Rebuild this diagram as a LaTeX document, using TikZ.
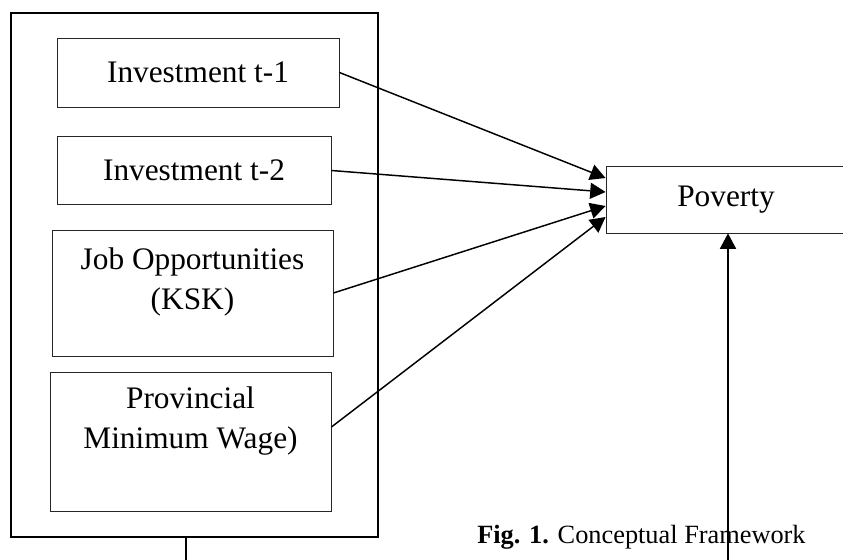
\documentclass[tikz,border=0pt]{standalone}
\usepackage{fontspec}
\setmainfont{Liberation Serif}
\usetikzlibrary{arrows.meta,calc}
\tikzset{
	kotakvar/.style={draw=black!85, line width=0.65pt, inner sep=0pt, font=\fontsize{23.5}{30}\selectfont},
	panah/.style={line width=1.1pt, -{Triangle[length=11.5pt,width=12pt]}}
}
\begin{document}
\begin{tikzpicture}[x=0.75pt,y=-0.75pt]
	\useasboundingbox (0,0) rectangle (843,560);
	\node[draw, line width=0.9pt, minimum width=367*0.75pt, minimum height=524*0.75pt] (luar) at (194.5,275) {};
	\begin{scope}[every node/.style={kotakvar}]
		\node[minimum width=282*0.75pt, minimum height=69*0.75pt] (inv1) at (198,72.5) {Investment t-1};
		\node[minimum width=274*0.75pt, minimum height=68*0.75pt] (inv2) at (194,170.5) {Investment t-2};
		\node[minimum width=281*0.75pt, minimum height=126*0.75pt, label={[align=center, yshift=8.25pt]center:Job Opportunities\\(KSK)}] (kerja) at (192.5,293) {};
		\node[minimum width=281*0.75pt, minimum height=139*0.75pt, label={[align=center, yshift=15.4pt]center:Provincial\\Minimum Wage)}] (upah) at (190.5,441.5) {};
		\node[minimum width=240*0.75pt, minimum height=67*0.75pt] (miskin) at (726,199.5) {Poverty};
	\end{scope}
	\draw[panah] (inv1.east) -- ($(miskin.west)+(0,-21.5)$);
	\draw[panah] (inv2.east) -- ($(miskin.west)+(0,-7.5)$);
	\draw[panah] (kerja.east) -- ($(miskin.west)+(0,6.5)$);
	\draw[panah] ($(upah.east)+(0,-14.5)$) -- ($(miskin.west)+(0,17.5)$);
	\coordinate (ujung) at (728,560);
	\draw[panah] (ujung) -- (ujung |- miskin.south);
	\coordinate (ekor) at (186,560);
	\draw[line width=0.9pt] (ekor |- luar.south) -- (ekor);
	\node[anchor=base west, inner sep=0pt, font=\fontsize{19.75}{24}\selectfont] (judul) at (477,543) {\textbf{Fig. 1.} Conceptual Framework};
\end{tikzpicture}
\end{document}
